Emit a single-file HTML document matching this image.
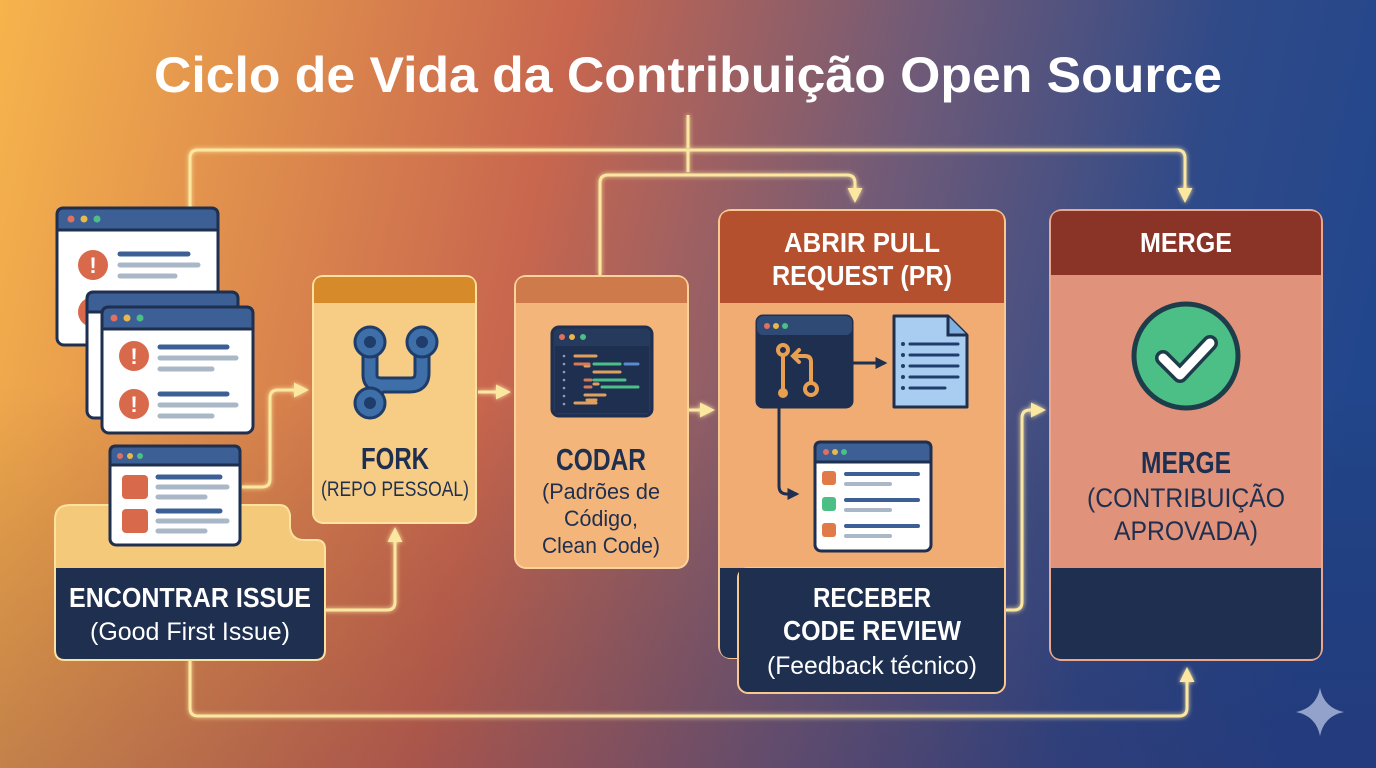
<!DOCTYPE html>
<html><head><meta charset="utf-8"><style>
html,body{margin:0;padding:0;width:1376px;height:768px;overflow:hidden}
svg{display:block}
text{font-family:"Liberation Sans Narrow","Liberation Sans",sans-serif}
</style></head><body>
<svg width="1376" height="768" viewBox="0 0 1376 768" xmlns="http://www.w3.org/2000/svg">
<defs>
<linearGradient id="bg" x1="0" y1="0" x2="1376" y2="300" gradientUnits="userSpaceOnUse">
<stop offset="0" stop-color="#f6b44c"/>
<stop offset="0.4" stop-color="#c8664e"/>
<stop offset="0.65" stop-color="#6e5a78"/>
<stop offset="0.85" stop-color="#304a88"/>
<stop offset="1" stop-color="#22468c"/>
</linearGradient>
<linearGradient id="shade" x1="0" y1="0" x2="0" y2="768" gradientUnits="userSpaceOnUse">
<stop offset="0.5" stop-color="#000" stop-opacity="0"/>
<stop offset="1" stop-color="#301040" stop-opacity="0.2"/>
</linearGradient>
<filter id="glow" x="-20%" y="-20%" width="140%" height="140%"><feGaussianBlur stdDeviation="2.5" result="b"/><feMerge><feMergeNode in="b"/><feMergeNode in="SourceGraphic"/></feMerge></filter>
<marker id="ar" viewBox="0 0 10 10" refX="8" refY="5" markerWidth="5" markerHeight="5" orient="auto"><path d="M0,0L10,5L0,10z" fill="#fbe7a0"/></marker>
<marker id="ad" viewBox="0 0 10 10" refX="8" refY="5" markerWidth="4" markerHeight="4" orient="auto"><path d="M0,0L10,5L0,10z" fill="#1e2f50"/></marker>
</defs>
<rect width="1376" height="768" fill="url(#bg)"/>
<rect width="1376" height="768" fill="url(#shade)"/>

<text x="688" y="92" text-anchor="middle" font-size="50" font-weight="bold" fill="#fff" textLength="1068" lengthAdjust="spacingAndGlyphs">Ciclo de Vida da Contribuição Open Source</text>

<g fill="none" stroke="#fbe7a0" stroke-width="3" filter="url(#glow)" stroke-linejoin="round">
<path d="M688,115V148"/>
<path d="M190,215V158q0-8 8-8H1177q8,0 8,8V200" marker-end="url(#ar)"/>
<path d="M688,150V172"/>
<path d="M600,275V183q0-8 8-8H847q8,0 8,8V200" marker-end="url(#ar)"/>
<path d="M190,660V708q0,8 8,8H1179q8,0 8-8V670" marker-end="url(#ar)"/>
<path d="M242,487H262q8,0 8-8V398q0-8 8-8H306" marker-end="url(#ar)"/>
<path d="M325,610H387q8,0 8-8V530" marker-end="url(#ar)"/>
<path d="M478,392H508" marker-end="url(#ar)"/>
<path d="M688,410H712" marker-end="url(#ar)"/>
<path d="M1005,610H1014q8,0 8-8V418q0-8 8-8H1043" marker-end="url(#ar)"/>
</g>

<!-- issue windows -->
<g stroke="#1e2f50" stroke-width="3">
<rect x="57" y="208" width="161" height="137" rx="7" fill="#fff"/>
<path d="M57,230V215q0-7 7-7H211q7,0 7,7V230z" fill="#3c5f96"/>
<circle cx="93" cy="265" r="15" fill="#d8694a" stroke="none"/>
<circle cx="93" cy="312" r="15" fill="#d8694a" stroke="none"/>
<rect x="87" y="292" width="151" height="126" rx="7" fill="#fff"/>
<path d="M87,312V299q0-7 7-7H231q7,0 7,7V312z" fill="#3c5f96"/>
<rect x="102" y="307" width="151" height="126" rx="7" fill="#fff"/>
<path d="M102,329V314q0-7 7-7H246q7,0 7,7V329z" fill="#3c5f96"/>
</g>
<g fill="#fff" font-size="22" font-weight="bold" text-anchor="middle" font-family="Liberation Sans">
<text x="93" y="273">!</text></g>
<g stroke-linecap="round" stroke-width="5">
<path d="M120,254H188" stroke="#3c5f96"/><path d="M120,265H198M120,276H175" stroke="#a9b7c6"/>
<path d="M160,347H227" stroke="#3c5f96"/><path d="M160,358H236M160,369H212" stroke="#a9b7c6"/>
<path d="M160,394H227" stroke="#3c5f96"/><path d="M160,405H236M160,416H212" stroke="#a9b7c6"/>
</g>
<g fill="#d8694a"><circle cx="134" cy="356" r="15"/><circle cx="134" cy="404" r="15"/></g>
<g fill="#fff" font-size="22" font-weight="bold" text-anchor="middle" font-family="Liberation Sans"><text x="134" y="364">!</text><text x="134" y="412">!</text></g>
<g><circle cx="71" cy="219" r="3.5" fill="#e07060"/><circle cx="84" cy="219" r="3.5" fill="#e8b84a"/><circle cx="97" cy="219" r="3.5" fill="#4cbf86"/>
<circle cx="114" cy="318" r="3.5" fill="#e07060"/><circle cx="127" cy="318" r="3.5" fill="#e8b84a"/><circle cx="140" cy="318" r="3.5" fill="#4cbf86"/></g>

<!-- issue folder -->
<path d="M55,520q0-15 15-15H280q8,0 10,10V528q2,12 14,12H316q9,0 9,9V650q0,10-10,10H65q-10,0-10-10z" fill="#f5c97a" stroke="#fbe2a0" stroke-width="2"/>
<rect x="110" y="446" width="130" height="99" rx="6" fill="#fff" stroke="#1e2f50" stroke-width="3"/>
<path d="M110,465V452q0-6 6-6H234q6,0 6,6V465z" fill="#3c5f96" stroke="#1e2f50" stroke-width="3"/>
<circle cx="120" cy="456" r="3" fill="#e07060"/><circle cx="130" cy="456" r="3" fill="#e8b84a"/><circle cx="140" cy="456" r="3" fill="#4cbf86"/>
<g stroke-linecap="round" stroke-width="5">
<path d="M158,477H220M158,511H220" stroke="#3c5f96"/><path d="M158,487H227M158,497H205M158,521H227M158,531H205" stroke="#a9b7c6"/></g>
<g fill="#d8694a"><rect x="122" y="475" width="26" height="24" rx="4"/><rect x="122" y="509" width="26" height="24" rx="4"/></g>
<path d="M56,568H324V650q0,9-9,9H65q-9,0-9-9z" fill="#1e2f50"/>
<text x="190" y="607" text-anchor="middle" font-size="28" font-weight="bold" fill="#fff" textLength="242" lengthAdjust="spacingAndGlyphs">ENCONTRAR ISSUE</text>
<text x="190" y="640" text-anchor="middle" font-size="25" fill="#fff" textLength="200" lengthAdjust="spacingAndGlyphs">(Good First Issue)</text>

<!-- fork -->
<rect x="313" y="276" width="163" height="247" rx="10" fill="#f7cc85" stroke="#fbe2a0" stroke-width="2"/>
<path d="M314,303V286q0-9 9-9H466q9,0 9,9V303z" fill="#d68a2a"/>
<g fill="none" stroke="#1e3d6a" stroke-width="17" stroke-linecap="round"><path d="M370,343V375q0,10 12,10H410q12,0 12-12V343M382,385q-12,6-12,20V400"/></g>
<g fill="none" stroke="#3f6fa8" stroke-width="11" stroke-linecap="round"><path d="M370,343V375q0,10 12,10H410q12,0 12-12V343M382,385q-12,6-12,20V400"/></g>
<g fill="#3f6fa8" stroke="#1e3d6a" stroke-width="3"><circle cx="370" cy="342" r="15"/><circle cx="422" cy="342" r="15"/><circle cx="370" cy="403" r="15"/></g>
<g fill="#1e3d6a"><circle cx="370" cy="342" r="6"/><circle cx="422" cy="342" r="6"/><circle cx="370" cy="403" r="6"/></g>
<text x="395" y="469" text-anchor="middle" font-size="31" font-weight="bold" fill="#1e2f50" textLength="68" lengthAdjust="spacingAndGlyphs">FORK</text>
<text x="395" y="496" text-anchor="middle" font-size="21" fill="#1e2f50" textLength="148" lengthAdjust="spacingAndGlyphs">(REPO PESSOAL)</text>

<!-- codar -->
<rect x="515" y="276" width="173" height="292" rx="11" fill="#f3b57a" stroke="#fbd39a" stroke-width="2"/>
<path d="M516,303V287q0-10 10-10H677q10,0 10,10V303z" fill="#cf7a4a"/>
<rect x="552" y="327" width="100" height="89" rx="7" fill="#253a5c" stroke="#1e2f50" stroke-width="3"/>
<rect x="555" y="346" width="94" height="67" fill="#1e2f50"/>
<circle cx="562" cy="337" r="3" fill="#e07060"/><circle cx="572" cy="337" r="3" fill="#e8b84a"/><circle cx="583" cy="337" r="3" fill="#4cbf86"/>
<g stroke-width="3" stroke-linecap="round">
<path d="M575,356H596M585,366H589M594,384H598M587,400H596" stroke="#e0a060"/>
<path d="M575,364H589M585,380H591M585,387H591" stroke="#d8785a"/>
<path d="M594,364H620M594,380H625M602,387H620M610,387H638" stroke="#4cbf86"/>
<path d="M625,364H638" stroke="#5a8ad0"/>
<path d="M594,372H620M585,395H605M575,403H596" stroke="#e0a060"/>
</g>
<g fill="#8aa0c0"><circle cx="564" cy="356" r="1.3"/><circle cx="564" cy="364" r="1.3"/><circle cx="564" cy="372" r="1.3"/><circle cx="564" cy="380" r="1.3"/><circle cx="564" cy="388" r="1.3"/><circle cx="564" cy="396" r="1.3"/><circle cx="564" cy="404" r="1.3"/></g>
<text x="601" y="470" text-anchor="middle" font-size="31" font-weight="bold" fill="#1e2f50" textLength="90" lengthAdjust="spacingAndGlyphs">CODAR</text>
<g font-size="22" fill="#1e2f50" text-anchor="middle">
<text x="601" y="499" textLength="118" lengthAdjust="spacingAndGlyphs">(Padrões de</text>
<text x="601" y="526" textLength="74" lengthAdjust="spacingAndGlyphs">Código,</text>
<text x="601" y="553" textLength="118" lengthAdjust="spacingAndGlyphs">Clean Code)</text></g>

<!-- PR -->
<rect x="719" y="210" width="286" height="448" rx="12" fill="#f0ac72" stroke="#f8c890" stroke-width="2"/>
<path d="M720,303V222q0-11 11-11H993q11,0 11,11V303z" fill="#b5502e"/>
<path d="M720,568H740V658H731q-11,0-11-11z" fill="#1e2f50"/>
<rect x="738" y="568" width="267" height="125" rx="10" fill="#1e2f50" stroke="#f8c890" stroke-width="2"/>
<rect x="739" y="568" width="265" height="12" fill="#1e2f50"/>
<g fill="#fff" font-weight="bold" font-size="28" text-anchor="middle">
<text x="862" y="252" textLength="156" lengthAdjust="spacingAndGlyphs">ABRIR PULL</text>
<text x="862" y="285" textLength="180" lengthAdjust="spacingAndGlyphs">REQUEST (PR)</text>
<text x="872" y="607" textLength="118" lengthAdjust="spacingAndGlyphs">RECEBER</text>
<text x="872" y="640" textLength="178" lengthAdjust="spacingAndGlyphs">CODE REVIEW</text></g>
<text x="872" y="674" text-anchor="middle" font-size="25" fill="#fff" textLength="210" lengthAdjust="spacingAndGlyphs">(Feedback técnico)</text>
<rect x="757" y="316" width="95" height="91" rx="6" fill="#1e2f50" stroke="#1e2f50" stroke-width="3"/>
<rect x="757" y="316" width="95" height="19" rx="6" fill="#2f4a74"/>
<circle cx="767" cy="326" r="3" fill="#e07060"/><circle cx="776" cy="326" r="3" fill="#e8b84a"/><circle cx="785" cy="326" r="3" fill="#4cbf86"/>
<g fill="none" stroke="#e8a050" stroke-width="4" stroke-linecap="round"><path d="M783,354V392M798,356H805q6,0 6,6V383"/><path d="M799,350L793,356L799,362" /></g>
<g fill="#1e2f50" stroke="#e8a050" stroke-width="4"><circle cx="783" cy="350" r="5"/><circle cx="811" cy="389" r="6"/></g>
<circle cx="783" cy="393" r="5" fill="#e8a050"/>
<path d="M852,363H885" stroke="#1e2f50" stroke-width="3" marker-end="url(#ad)"/>
<path d="M894,316H948L967,335V407H894z" fill="#a9cdf0" stroke="#1e2f50" stroke-width="3" stroke-linejoin="round"/>
<path d="M948,316V335H967" fill="#7fb0e0" stroke="#1e2f50" stroke-width="3"/>
<g stroke="#1e3d6a" stroke-width="3" stroke-linecap="round"><path d="M910,344H958M910,355H958M910,366H958M910,377H958M910,388H945"/><path d="M903,344h0M903,355h0M903,366h0M903,377h0M903,388h0" stroke-width="4"/></g>
<path d="M779,407V486q0,8 8,8H797" fill="none" stroke="#1e2f50" stroke-width="3" marker-end="url(#ad)"/>
<rect x="815" y="442" width="116" height="109" rx="6" fill="#fff" stroke="#1e2f50" stroke-width="3"/>
<path d="M815,462V448q0-6 6-6H925q6,0 6,6V462z" fill="#3c5f96" stroke="#1e2f50" stroke-width="3"/>
<circle cx="826" cy="452" r="3" fill="#e07060"/><circle cx="835" cy="452" r="3" fill="#e8b84a"/><circle cx="844" cy="452" r="3" fill="#4cbf86"/>
<rect x="822" y="471" width="14" height="14" rx="3" fill="#e07a48"/><rect x="822" y="497" width="14" height="14" rx="3" fill="#4cbf86"/><rect x="822" y="523" width="14" height="14" rx="3" fill="#e07a48"/>
<g stroke-linecap="round" stroke-width="4"><path d="M846,474H918M846,500H918M846,526H918" stroke="#3c5f96"/><path d="M846,484H890M846,510H890M846,536H890" stroke="#a9b7c6"/></g>

<!-- merge -->
<rect x="1050" y="210" width="272" height="450" rx="12" fill="#e0927a" stroke="#eaa890" stroke-width="2"/>
<path d="M1051,275V222q0-11 11-11H1310q11,0 11,11V275z" fill="#8a3428"/>
<path d="M1051,568H1321V648q0,11-11,11H1062q-11,0-11-11z" fill="#1e2f50"/>
<text x="1186" y="252" text-anchor="middle" font-size="28" font-weight="bold" fill="#fff" textLength="92" lengthAdjust="spacingAndGlyphs">MERGE</text>
<circle cx="1186" cy="356" r="52" fill="#4cbf86" stroke="#1e3d4a" stroke-width="5"/>
<path d="M1163,358L1180,375L1210,343" fill="none" stroke="#1e3d4a" stroke-width="16" stroke-linecap="round" stroke-linejoin="round"/>
<path d="M1163,358L1180,375L1210,343" fill="none" stroke="#fff" stroke-width="9" stroke-linecap="round" stroke-linejoin="round"/>
<text x="1186" y="473" text-anchor="middle" font-size="31" font-weight="bold" fill="#1e2f50" textLength="90" lengthAdjust="spacingAndGlyphs">MERGE</text>
<g font-size="27" fill="#1e2f50" text-anchor="middle">
<text x="1186" y="507" textLength="198" lengthAdjust="spacingAndGlyphs">(CONTRIBUIÇÃO</text>
<text x="1186" y="540" textLength="144" lengthAdjust="spacingAndGlyphs">APROVADA)</text></g>

<path d="M1320,688Q1324,708 1344,712Q1324,716 1320,736Q1316,716 1296,712Q1316,708 1320,688z" fill="#a6b4d8" opacity="0.85"/>
</svg>
</body></html>
